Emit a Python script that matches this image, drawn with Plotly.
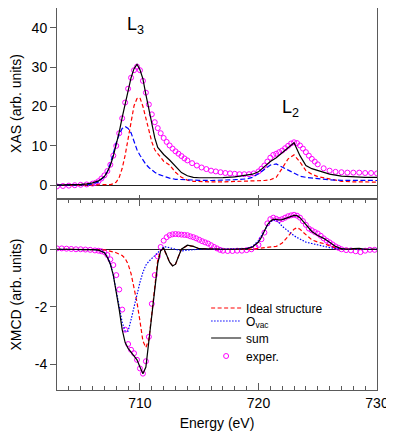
import plotly.graph_objects as go
from plotly.subplots import make_subplots

# ---------------- XAS (top panel) ----------------
xas_line_e = [703, 704, 705, 705.5, 706, 706.5, 707, 707.25, 707.5, 707.75, 708, 708.25, 708.5, 708.75,
              709, 709.25, 709.5, 709.75, 710, 710.25, 710.5, 710.75, 711, 711.25, 711.5, 711.75,
              712, 712.5, 713, 713.5, 714, 714.5, 715, 716, 717, 718, 719, 719.5, 720, 720.5, 721,
              721.5, 722, 722.5, 723, 723.5, 724, 724.5, 725, 725.5, 726, 727, 728, 729, 730]
xas_sum = [0, 0.05, 0.2, 0.35, 0.6, 1.1, 2.2, 3.4, 5.0, 7.4, 10.3, 13.5, 17.2, 20.8,
           24.3, 27.3, 29.6, 30.7, 29.3, 27.0, 23.0, 19.3, 15.5, 12.0, 9.6, 8.7,
           7.8, 6.4, 4.8, 3.2, 2.4, 2.0, 1.9, 1.9, 1.95, 2.1, 2.5, 2.8, 3.4, 4.7, 6.0,
           7.0, 8.2, 9.5, 10.8, 7.5, 5.0, 4.2, 3.7, 3.3, 2.8, 2.3, 2.1, 2.0, 2.0]
xas_ideal = [0, 0, 0, 0, 0, 0.02, 0.05, 0.1, 0.15, 0.35, 0.8, 2.0, 4.3, 7.6,
             11.8, 16.5, 20.2, 22.0, 22.2, 20.0, 17.0, 13.8, 11.0, 9.0, 8.0, 7.0,
             6.1, 5.1, 3.3, 2.0, 1.3, 1.0, 0.9, 0.85, 0.85, 0.9, 1.0, 1.05, 1.1, 1.2, 1.4,
             2.0, 4.3, 6.7, 7.7, 5.9, 3.7, 2.8, 2.2, 1.9, 1.5, 1.0, 0.85, 0.8, 0.8]
xas_ovac = [0, 0.02, 0.05, 0.15, 0.3, 0.8, 2.2, 3.5, 5.5, 8.3, 10.8, 12.9, 14.4, 14.9,
            14.4, 13.3, 11.0, 9.0, 7.6, 6.4, 5.3, 4.5, 3.8, 3.3, 2.8, 2.5,
            2.2, 1.8, 1.5, 1.4, 1.3, 1.28, 1.25, 1.2, 1.25, 1.4, 1.6, 2.0, 2.9, 4.1, 5.1,
            5.4, 4.6, 3.7, 3.0, 2.3, 2.0, 1.8, 1.6, 1.45, 1.35, 1.25, 1.2, 1.2, 1.2]

xas_exp_e = [703, 703.5, 704, 704.5, 705, 705.5, 706, 706.25, 706.5, 706.75, 707, 707.25, 707.5, 707.75,
             708, 708.25, 708.5, 708.75, 709, 709.25, 709.5, 709.75, 710, 710.25, 710.5, 710.75,
             711, 711.25, 711.5, 711.75, 712, 712.25, 712.5, 712.75, 713, 713.25, 713.5, 713.75,
             714, 714.4, 714.8, 715.2, 715.6, 716, 716.4, 716.8, 717.2, 717.6, 718, 718.4, 718.8,
             719.2, 719.6, 720, 720.25, 720.5, 720.75, 721, 721.25, 721.5, 721.75, 722, 722.25,
             722.5, 722.75, 723, 723.25, 723.5, 723.75, 724, 724.25, 724.5, 724.75, 725, 725.5,
             726, 726.5, 727, 727.5, 728, 728.5, 729, 729.5, 730]
xas_exp = [-0.3, -0.2, -0.1, 0.0, 0.1, 0.2, 0.4, 0.6, 1.0, 1.7, 2.5, 3.6, 5.2, 7.5,
           10.0, 13.2, 17.0, 21.0, 24.5, 27.3, 29.2, 30.1, 29.2, 26.5, 23.5, 20.5,
           18.0, 16.0, 14.5, 13.2, 12.0, 11.0, 10.1, 9.3, 8.6, 8.0, 7.4, 6.8,
           6.3, 5.6, 5.0, 4.5, 4.1, 3.7, 3.5, 3.3, 3.1, 3.0, 2.9, 2.8, 2.8,
           2.8, 3.0, 3.5, 4.2, 5.0, 6.0, 7.0, 7.7, 8.0, 8.4, 8.8, 9.4,
           10.0, 10.6, 10.9, 10.7, 10.1, 9.3, 8.4, 7.5, 6.7, 6.0, 5.3, 4.3,
           3.7, 3.4, 3.3, 3.2, 3.2, 3.2, 3.1, 3.1, 3.0]

# ---------------- XMCD (bottom panel) ----------------
xmcd_line_e = [703, 704, 705, 706, 706.5, 707, 707.25, 707.5, 707.75, 708, 708.25, 708.5, 708.75,
               709, 709.25, 709.5, 709.75, 710, 710.25, 710.5, 710.75, 711, 711.25, 711.5, 711.75,
               712, 712.25, 712.5, 712.75, 713, 713.25, 713.5, 714, 714.5, 715, 716, 717, 718, 719,
               719.5, 720, 720.25, 720.5, 720.75, 721, 721.25, 721.5, 721.75, 722, 722.5, 723, 723.25,
               723.5, 723.75, 724, 724.5, 725, 725.5, 726, 726.5, 727, 727.5, 728, 728.5, 729, 730]
xmcd_sum = [0, 0, 0, -0.01, -0.03, -0.12, -0.28, -0.52, -0.9, -1.45, -2.1, -2.8, -3.25,
            -3.45, -3.58, -3.68, -3.85, -4.1, -4.33, -4.1, -3.2, -2.2, -1.3, -0.5, -0.05,
            0.04, -0.2, -0.45, -0.58, -0.52, -0.25, 0.0, 0.14, 0.1, 0.02, 0, 0, 0, 0.02,
            0.08, 0.25, 0.42, 0.62, 0.85, 0.98, 1.04, 1.04, 1.02, 1.03, 1.1, 1.18, 1.17,
            1.1, 0.98, 0.85, 0.62, 0.48, 0.38, 0.24, 0.1, 0.02, 0.0, 0.02, 0.03, 0.0, 0]
xmcd_ideal = [0, 0, 0, 0, -0.01, -0.02, -0.04, -0.06, -0.09, -0.12, -0.17, -0.22, -0.32,
              -0.52, -0.85, -1.3, -1.85, -2.5, -3.2, -3.42, -3.15, -2.25, -1.2, -0.37, -0.02,
              0.0, -0.2, -0.45, -0.57, -0.52, -0.25, 0.0, 0.13, 0.1, 0.02, 0, 0, 0, 0.0,
              0.01, 0.03, 0.04, 0.05, 0.05, 0.06, 0.08, 0.1, 0.15, 0.22, 0.45, 0.7, 0.75,
              0.7, 0.6, 0.5, 0.33, 0.25, 0.2, 0.12, 0.05, 0.01, 0, 0, 0, 0, 0]
xmcd_ovac = [0, 0, 0, 0, -0.02, -0.1, -0.25, -0.5, -0.9, -1.45, -2.05, -2.55, -2.85,
             -2.85, -2.45, -2.0, -1.55, -1.15, -0.8, -0.55, -0.42, -0.32, -0.22, -0.15, -0.04,
             0.08, 0.08, 0.06, 0.03, 0.0, -0.03, -0.06, -0.03, -0.01, 0, 0, 0, 0, 0.02,
             0.1, 0.3, 0.47, 0.65, 0.82, 0.95, 1.02, 1.0, 0.92, 0.8, 0.62, 0.47, 0.41,
             0.36, 0.3, 0.25, 0.2, 0.15, 0.1, 0.06, 0.03, 0.01, 0, 0, 0, 0, 0]

xmcd_exp_e = [703, 703.4, 703.8, 704.2, 704.6, 705, 705.4, 705.8, 706.2, 706.5, 706.75, 707, 707.25,
              707.5, 707.75, 708, 708.25, 708.5, 708.75, 709, 709.25, 709.5, 709.75, 710, 710.25,
              710.5, 710.75, 711, 711.25, 711.5, 711.75, 712, 712.25, 712.5, 712.75, 713, 713.25,
              713.5, 713.75, 714, 714.25, 714.5, 714.75, 715, 715.25, 715.5, 715.75, 716, 716.25,
              716.5, 716.75, 717, 717.4, 717.8, 718.2, 718.6, 719, 719.4, 719.75, 720, 720.25,
              720.5, 720.75, 721, 721.25, 721.5, 721.75, 722, 722.25, 722.5, 722.75, 723, 723.25,
              723.5, 723.75, 724, 724.25, 724.5, 724.75, 725, 725.25, 725.5, 725.75, 726, 726.25,
              726.5, 726.75, 727, 727.4, 727.8, 728.2, 728.6, 729, 729.4, 729.8]
xmcd_exp = [0.03, 0.03, 0.02, 0.01, 0.0, 0.0, -0.01, -0.02, -0.04, -0.05, -0.07, -0.1, -0.2,
            -0.35, -0.55, -0.9, -1.4, -2.1, -2.8, -3.3, -3.5, -3.62, -3.85, -4.15, -4.33,
            -3.9, -3.05, -1.9, -0.9, -0.25, 0.08, 0.3, 0.42, 0.49, 0.52, 0.53, 0.52,
            0.51, 0.5, 0.49, 0.45, 0.42, 0.38, 0.33, 0.28, 0.24, 0.2, 0.14, 0.08,
            0.03, -0.02, -0.05, -0.06, -0.06, -0.05, -0.05, -0.03, 0.0, 0.08, 0.15, 0.35,
            0.58, 0.9, 1.05, 1.1, 1.06, 1.02, 1.05, 1.1, 1.15, 1.18, 1.2, 1.17,
            1.1, 0.98, 0.85, 0.72, 0.66, 0.6, 0.55, 0.47, 0.38, 0.3, 0.24, 0.17,
            0.1, 0.05, 0.0, -0.03, -0.04, -0.07, -0.1, -0.05, -0.02, -0.02]

xas_ticks = [0, 10, 20, 30, 40]
xmcd_ticks = [-4, -2, 0]
xmcd_ticktext = ["-4", "-2", "0"]
energy_ticks = [710, 720, 730]
energy_ticktext = ["710", "720", "730"]

names = ["Ideal structure", "O<sub>vac</sub>", "sum", "exper."]

FONT = "Liberation Sans, Arial, Helvetica, sans-serif"
RED = "#ff0000"
BLUE = "#0000ff"
MAG = "#ff00ff"
AXC = "#5a5a5a"

fig = make_subplots(rows=2, cols=1, shared_xaxes=True, vertical_spacing=0)

# top panel
fig.add_trace(go.Scatter(x=xas_exp_e, y=xas_exp, mode="markers",
                         marker=dict(symbol="circle-open", size=5, color=MAG, line=dict(width=1, color=MAG)),
                         showlegend=False), row=1, col=1)
fig.add_trace(go.Scatter(x=xas_line_e, y=xas_ideal, mode="lines",
                         line=dict(color=RED, width=1.2, dash="4px,2.5px"), showlegend=False), row=1, col=1)
fig.add_trace(go.Scatter(x=xas_line_e, y=xas_ovac, mode="lines",
                         line=dict(color=BLUE, width=1.2, dash="5px,2.5px"), showlegend=False), row=1, col=1)
fig.add_trace(go.Scatter(x=xas_line_e, y=xas_sum, mode="lines",
                         line=dict(color="black", width=1.2), showlegend=False), row=1, col=1)

# bottom panel (each legend entry in its own legend box for exact row spacing)
fig.add_trace(go.Scatter(x=xmcd_exp_e, y=xmcd_exp, mode="markers", name=names[3], legend="legend4",
                         marker=dict(symbol="circle-open", size=5, color=MAG, line=dict(width=1, color=MAG))),
              row=2, col=1)
fig.add_trace(go.Scatter(x=xmcd_line_e, y=xmcd_ideal, mode="lines", name=names[0], legend="legend",
                         line=dict(color=RED, width=1.2, dash="4px,2.5px")), row=2, col=1)
fig.add_trace(go.Scatter(x=xmcd_line_e, y=xmcd_ovac, mode="lines", name=names[1], legend="legend2",
                         line=dict(color=BLUE, width=1.2, dash="1.5px,1.5px")), row=2, col=1)
fig.add_trace(go.Scatter(x=xmcd_line_e, y=xmcd_sum, mode="lines", name=names[2], legend="legend3",
                         line=dict(color="black", width=1.2)), row=2, col=1)

# page body has an 8px margin: figure origin sits at (8, 8) in the window
W, H = 386, 423
plot_top, plot_bottom, plot_left, plot_right = 0, 382, 49, 369
PH = plot_bottom - plot_top
split = (390 - 199) / float(PH)

fig.update_xaxes(range=[703, 730], showline=True, linecolor=AXC, linewidth=1,
                 tickvals=energy_ticks, ticktext=energy_ticktext, ticks="inside",
                 tickcolor=AXC, showgrid=False, zeroline=False, ticklabeloverflow="allow")
fig.update_xaxes(row=1, col=1, mirror=True, showticklabels=False, ticklen=4)
fig.update_xaxes(row=2, col=1, mirror="ticks", showticklabels=True, ticklen=7,
                 minor=dict(dtick=1, tick0=703, ticks="inside", ticklen=4, tickcolor=AXC, showgrid=False),
                 title=dict(text="Energy (eV)", standoff=10, font=dict(size=14, color="black")),
                 tickfont=dict(size=14, color="black"))

ycommon = dict(showline=True, mirror=True, linecolor=AXC, linewidth=1, ticks="outside",
               ticklen=6, tickcolor=AXC, showgrid=False, zeroline=True, zerolinecolor="#222222",
               zerolinewidth=1, tickfont=dict(size=14, color="black"))
fig.update_yaxes(**ycommon)
fig.update_yaxes(row=1, col=1, range=[-3.5, 45], tickvals=xas_ticks, domain=[split, 1],
                 title=dict(text="XAS (arb. units)", standoff=12, font=dict(size=14, color="black")))
fig.update_yaxes(row=2, col=1, range=[-4.9, 1.75], tickvals=xmcd_ticks, ticktext=xmcd_ticktext,
                 domain=[0, split],
                 title=dict(text="XMCD (arb. units)", standoff=12, font=dict(size=14, color="black")))

fig.add_annotation(x=709.6, y=40.6, xref="x", yref="y", text="L<sub>3</sub>", showarrow=False,
                   font=dict(size=18, color="black", family=FONT))
fig.add_annotation(x=722.7, y=19.4, xref="x", yref="y", text="L<sub>2</sub>", showarrow=False,
                   font=dict(size=18, color="black", family=FONT))


def leg(yc_window):
    return dict(x=0.466, y=(390 - yc_window) / float(PH), xanchor="left",
                yanchor="middle", bgcolor="rgba(0,0,0,0)", font=dict(size=12, color="black"),
                itemwidth=30)


fig.update_layout(
    width=W, height=H,
    margin=dict(l=plot_left, r=W - plot_right, t=plot_top, b=H - plot_bottom, autoexpand=False),
    paper_bgcolor="white", plot_bgcolor="white",
    font=dict(family=FONT, size=14, color="black"),
    legend=leg(308), legend2=leg(321), legend3=leg(338), legend4=leg(356),
)

fig.write_html("out.html")
